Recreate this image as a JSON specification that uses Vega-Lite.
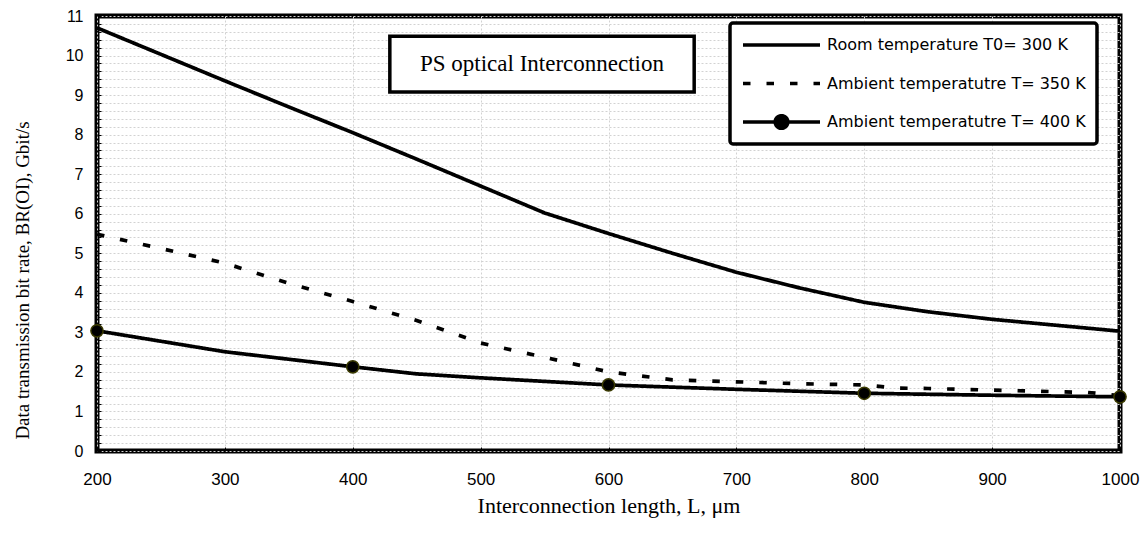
{
  "$schema": "https://vega.github.io/schema/vega-lite/v6.json",
  "width": 1023,
  "height": 435,
  "autosize": "none",
  "padding": {"left": 97, "top": 16, "right": 24, "bottom": 85},
  "background": "white",
  "config": {
    "view": {"stroke": "black", "strokeWidth": 5},
    "axis": {
      "domain": false,
      "grid": true,
      "gridColor": "#d2d2d2",
      "gridDash": [2, 2],
      "gridWidth": 1,
      "ticks": true,
      "tickSize": -4,
      "tickColor": "black",
      "tickWidth": 1,
      "labelFont": "Liberation Sans",
      "labelColor": "black",
      "labelFlush": false,
      "labelOverlap": false,
      "titleFont": "Liberation Serif",
      "titleFontWeight": "normal",
      "titleColor": "black"
    }
  },
  "datasets": {
    "curves": [
      {"L": 200, "B": 10.70, "series": "Room temperature T0= 300 K"},
      {"L": 250, "B": 10.03, "series": "Room temperature T0= 300 K"},
      {"L": 300, "B": 9.36, "series": "Room temperature T0= 300 K"},
      {"L": 350, "B": 8.70, "series": "Room temperature T0= 300 K"},
      {"L": 400, "B": 8.05, "series": "Room temperature T0= 300 K"},
      {"L": 450, "B": 7.38, "series": "Room temperature T0= 300 K"},
      {"L": 500, "B": 6.70, "series": "Room temperature T0= 300 K"},
      {"L": 550, "B": 6.02, "series": "Room temperature T0= 300 K"},
      {"L": 600, "B": 5.50, "series": "Room temperature T0= 300 K"},
      {"L": 650, "B": 5.00, "series": "Room temperature T0= 300 K"},
      {"L": 700, "B": 4.52, "series": "Room temperature T0= 300 K"},
      {"L": 750, "B": 4.12, "series": "Room temperature T0= 300 K"},
      {"L": 800, "B": 3.76, "series": "Room temperature T0= 300 K"},
      {"L": 850, "B": 3.52, "series": "Room temperature T0= 300 K"},
      {"L": 900, "B": 3.33, "series": "Room temperature T0= 300 K"},
      {"L": 950, "B": 3.18, "series": "Room temperature T0= 300 K"},
      {"L": 1000, "B": 3.03, "series": "Room temperature T0= 300 K"},
      {"L": 200, "B": 5.48, "series": "Ambient temperatutre T= 350 K"},
      {"L": 250, "B": 5.12, "series": "Ambient temperatutre T= 350 K"},
      {"L": 300, "B": 4.75, "series": "Ambient temperatutre T= 350 K"},
      {"L": 350, "B": 4.24, "series": "Ambient temperatutre T= 350 K"},
      {"L": 400, "B": 3.78, "series": "Ambient temperatutre T= 350 K"},
      {"L": 450, "B": 3.30, "series": "Ambient temperatutre T= 350 K"},
      {"L": 500, "B": 2.73, "series": "Ambient temperatutre T= 350 K"},
      {"L": 550, "B": 2.37, "series": "Ambient temperatutre T= 350 K"},
      {"L": 600, "B": 2.00, "series": "Ambient temperatutre T= 350 K"},
      {"L": 625, "B": 1.90, "series": "Ambient temperatutre T= 350 K"},
      {"L": 650, "B": 1.80, "series": "Ambient temperatutre T= 350 K"},
      {"L": 700, "B": 1.75, "series": "Ambient temperatutre T= 350 K"},
      {"L": 750, "B": 1.70, "series": "Ambient temperatutre T= 350 K"},
      {"L": 800, "B": 1.67, "series": "Ambient temperatutre T= 350 K"},
      {"L": 825, "B": 1.59, "series": "Ambient temperatutre T= 350 K"},
      {"L": 850, "B": 1.58, "series": "Ambient temperatutre T= 350 K"},
      {"L": 900, "B": 1.54, "series": "Ambient temperatutre T= 350 K"},
      {"L": 950, "B": 1.50, "series": "Ambient temperatutre T= 350 K"},
      {"L": 975, "B": 1.48, "series": "Ambient temperatutre T= 350 K"},
      {"L": 1000, "B": 1.40, "series": "Ambient temperatutre T= 350 K"},
      {"L": 200, "B": 3.04, "series": "Ambient temperatutre T= 400 K"},
      {"L": 300, "B": 2.51, "series": "Ambient temperatutre T= 400 K"},
      {"L": 400, "B": 2.13, "series": "Ambient temperatutre T= 400 K"},
      {"L": 450, "B": 1.95, "series": "Ambient temperatutre T= 400 K"},
      {"L": 500, "B": 1.85, "series": "Ambient temperatutre T= 400 K"},
      {"L": 600, "B": 1.67, "series": "Ambient temperatutre T= 400 K"},
      {"L": 700, "B": 1.56, "series": "Ambient temperatutre T= 400 K"},
      {"L": 800, "B": 1.46, "series": "Ambient temperatutre T= 400 K"},
      {"L": 900, "B": 1.41, "series": "Ambient temperatutre T= 400 K"},
      {"L": 1000, "B": 1.37, "series": "Ambient temperatutre T= 400 K"}
    ],
    "note": [
      {"label": "PS optical Interconnection"}
    ]
  },
  "layer": [
    {
      "data": {"name": "curves"},
      "mark": {"type": "line", "strokeWidth": 3.7, "color": "black", "strokeCap": "butt"},
      "encoding": {
        "x": {
          "field": "L",
          "type": "quantitative",
          "scale": {"domain": [200, 1000], "nice": false, "zero": false},
          "axis": {
            "values": [200, 300, 400, 500, 600, 700, 800, 900, 1000],
            "format": "d",
            "labelFontSize": 17,
            "labelPadding": 24,
            "title": "Interconnection length, L, μm",
            "titleFontSize": 22,
            "titlePadding": 8
          }
        },
        "y": {
          "field": "B",
          "type": "quantitative",
          "scale": {"domain": [0, 11], "nice": false, "zero": true},
          "axis": {
            "values": [0, 0.2, 0.4, 0.6, 0.8, 1, 1.2, 1.4, 1.6, 1.8, 2, 2.2, 2.4, 2.6, 2.8, 3, 3.2, 3.4, 3.6, 3.8, 4, 4.2, 4.4, 4.6, 4.8, 5, 5.2, 5.4, 5.6, 5.8, 6, 6.2, 6.4, 6.6, 6.8, 7, 7.2, 7.4, 7.6, 7.8, 8, 8.2, 8.4, 8.6, 8.8, 9, 9.2, 9.4, 9.6, 9.8, 10, 10.2, 10.4, 10.6, 10.8, 11],
            "labelExpr": "datum.value % 1 === 0 ? format(datum.value, 'd') : ''",
            "labelFontSize": 16,
            "labelPadding": 18,
            "title": "Data transmission bit rate, BR(OI), Gbit/s",
            "titleFontSize": 19,
            "titlePadding": 33,
            "titleY": 264
          }
        },
        "strokeDash": {
          "field": "series",
          "type": "nominal",
          "scale": {
            "domain": ["Room temperature T0= 300 K", "Ambient temperatutre T= 350 K", "Ambient temperatutre T= 400 K"],
            "range": [[1, 0], [7.5, 16], [1, 0]]
          },
          "legend": {
            "title": null,
            "orient": "none",
            "legendX": 633,
            "legendY": 7,
            "symbolType": "stroke",
            "symbolSize": 5929,
            "symbolStrokeWidth": 3.5,
            "symbolStrokeColor": "black",
            "labelFont": "DejaVu Sans",
            "labelFontSize": 16,
            "labelColor": "black",
            "labelOffset": 5,
            "labelLimit": 400,
            "padding": 11,
            "clipHeight": 22,
            "rowPadding": 16.5,
            "strokeColor": "black",
            "fillColor": "white",
            "cornerRadius": 3,
            "encode": {
              "legend": {"update": {"strokeWidth": {"value": 3.5}}},
              "symbols": {
                "update": {
                  "shape": {"signal": "datum.value === 'Ambient temperatutre T= 400 K' ? 'M-1,0H1M0.165,0A0.165,0.165,0,1,1,-0.165,0A0.165,0.165,0,1,1,0.165,0Z' : 'stroke'"},
                  "stroke": {"value": "black"},
                  "strokeWidth": {"value": 3.5},
                  "strokeOpacity": {"value": 1},
                  "opacity": {"value": 1},
                  "fill": {"value": "black"},
                  "fillOpacity": {"value": 1}
                }
              }
            }
          }
        }
      }
    },
    {
      "data": {"name": "curves"},
      "transform": [
        {"filter": {"and": [
          {"field": "series", "equal": "Ambient temperatutre T= 400 K"},
          {"field": "L", "oneOf": [200, 400, 600, 800, 1000]}
        ]}}
      ],
      "mark": {"type": "point", "shape": "circle", "filled": true, "fill": "black", "stroke": "#3a3a00", "strokeWidth": 1.5, "opacity": 1, "size": 150},
      "encoding": {
        "x": {
          "field": "L",
          "type": "quantitative",
          "axis": {
            "values": [200, 300, 400, 500, 600, 700, 800, 900, 1000],
            "format": "d",
            "labelFontSize": 17,
            "labelPadding": 24,
            "title": "Interconnection length, L, μm",
            "titleFontSize": 22,
            "titlePadding": 8
          }
        },
        "y": {
          "field": "B",
          "type": "quantitative",
          "axis": {
            "values": [0, 0.2, 0.4, 0.6, 0.8, 1, 1.2, 1.4, 1.6, 1.8, 2, 2.2, 2.4, 2.6, 2.8, 3, 3.2, 3.4, 3.6, 3.8, 4, 4.2, 4.4, 4.6, 4.8, 5, 5.2, 5.4, 5.6, 5.8, 6, 6.2, 6.4, 6.6, 6.8, 7, 7.2, 7.4, 7.6, 7.8, 8, 8.2, 8.4, 8.6, 8.8, 9, 9.2, 9.4, 9.6, 9.8, 10, 10.2, 10.4, 10.6, 10.8, 11],
            "labelExpr": "datum.value % 1 === 0 ? format(datum.value, 'd') : ''",
            "labelFontSize": 16,
            "labelPadding": 18,
            "title": "Data transmission bit rate, BR(OI), Gbit/s",
            "titleFontSize": 19,
            "titlePadding": 33,
            "titleY": 264
          }
        }
      }
    },
    {
      "data": {"name": "note"},
      "mark": {"type": "rect", "fill": "white", "stroke": "black", "strokeWidth": 3.5},
      "encoding": {
        "x": {
          "datum": 429,
          "type": "quantitative",
          "axis": {
            "values": [200, 300, 400, 500, 600, 700, 800, 900, 1000],
            "format": "d",
            "labelFontSize": 17,
            "labelPadding": 24,
            "title": "Interconnection length, L, μm",
            "titleFontSize": 22,
            "titlePadding": 8
          }
        },
        "x2": {"datum": 667},
        "y": {
          "datum": 10.49,
          "type": "quantitative",
          "axis": {
            "values": [0, 0.2, 0.4, 0.6, 0.8, 1, 1.2, 1.4, 1.6, 1.8, 2, 2.2, 2.4, 2.6, 2.8, 3, 3.2, 3.4, 3.6, 3.8, 4, 4.2, 4.4, 4.6, 4.8, 5, 5.2, 5.4, 5.6, 5.8, 6, 6.2, 6.4, 6.6, 6.8, 7, 7.2, 7.4, 7.6, 7.8, 8, 8.2, 8.4, 8.6, 8.8, 9, 9.2, 9.4, 9.6, 9.8, 10, 10.2, 10.4, 10.6, 10.8, 11],
            "labelExpr": "datum.value % 1 === 0 ? format(datum.value, 'd') : ''",
            "labelFontSize": 16,
            "labelPadding": 18,
            "title": "Data transmission bit rate, BR(OI), Gbit/s",
            "titleFontSize": 19,
            "titlePadding": 33,
            "titleY": 264
          }
        },
        "y2": {"datum": 9.08}
      }
    },
    {
      "data": {"name": "note"},
      "mark": {"type": "text", "font": "Liberation Serif", "fontSize": 23, "color": "black", "align": "center", "baseline": "middle"},
      "encoding": {
        "x": {
          "datum": 548,
          "type": "quantitative",
          "axis": {
            "values": [200, 300, 400, 500, 600, 700, 800, 900, 1000],
            "format": "d",
            "labelFontSize": 17,
            "labelPadding": 24,
            "title": "Interconnection length, L, μm",
            "titleFontSize": 22,
            "titlePadding": 8
          }
        },
        "y": {
          "datum": 9.79,
          "type": "quantitative",
          "axis": {
            "values": [0, 0.2, 0.4, 0.6, 0.8, 1, 1.2, 1.4, 1.6, 1.8, 2, 2.2, 2.4, 2.6, 2.8, 3, 3.2, 3.4, 3.6, 3.8, 4, 4.2, 4.4, 4.6, 4.8, 5, 5.2, 5.4, 5.6, 5.8, 6, 6.2, 6.4, 6.6, 6.8, 7, 7.2, 7.4, 7.6, 7.8, 8, 8.2, 8.4, 8.6, 8.8, 9, 9.2, 9.4, 9.6, 9.8, 10, 10.2, 10.4, 10.6, 10.8, 11],
            "labelExpr": "datum.value % 1 === 0 ? format(datum.value, 'd') : ''",
            "labelFontSize": 16,
            "labelPadding": 18,
            "title": "Data transmission bit rate, BR(OI), Gbit/s",
            "titleFontSize": 19,
            "titlePadding": 33,
            "titleY": 264
          }
        },
        "text": {"field": "label"}
      }
    }
  ]
}
